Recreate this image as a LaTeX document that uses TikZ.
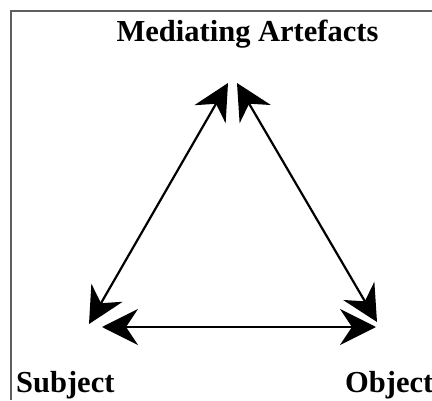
\documentclass[tikz,border=0pt]{standalone}
\usepackage{fontspec}
\setmainfont{Liberation Serif}
\usetikzlibrary{arrows.meta}
\definecolor{framecol}{RGB}{95,95,95}
\tikzset{
  label/.style={font=\bfseries\fontsize{30.5}{36}\selectfont, inner sep=0pt},
  rel/.style={line width=2.2pt, {Stealth[length=36pt,width=36pt,inset=12pt]}-{Stealth[length=36pt,width=36pt,inset=12pt]}},
}
\begin{document}
\begin{tikzpicture}[x=1pt,y=1pt]
\useasboundingbox (0,0) rectangle (432,400);
\fill[white] (0,0) rectangle (432,400);
\draw[framecol, line width=2pt] (11,0) -- (11,388.5) -- (432.5,388.5);
\node[label, anchor=base] (med) at (247.5,358) {Mediating Artefacts};
\node[label, anchor=base west] (sub) at (16,8) {Subject};
\node[label, anchor=base west] (obj) at (345,8) {Object};
\coordinate (lt) at (228,317);
\coordinate (lb) at (89,76);
\coordinate (rt) at (237,317);
\coordinate (rb) at (377,78);
\coordinate (bl) at (102,73);
\coordinate (br) at (376,73);
\draw[rel] (lb) -- (lt);
\draw[rel] (rt) -- (rb);
\draw[rel] (bl) -- (br);
\end{tikzpicture}
\end{document}
